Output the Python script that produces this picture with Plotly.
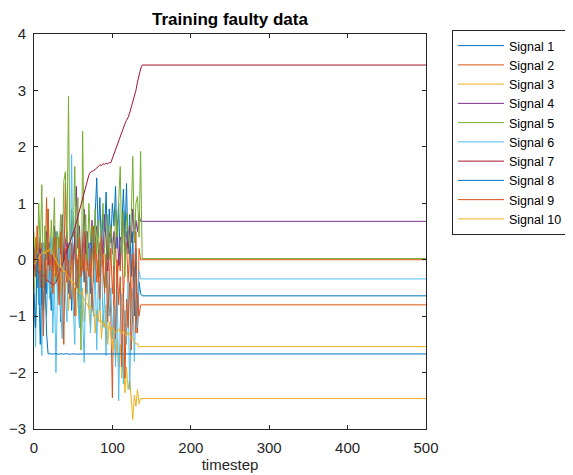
import plotly.graph_objects as go

# timesteps: sampled noisy segment (0..136 step 2), then the flat end (138, 500)
timestep_noisy = list(range(0, 138, 2))
timestep_tail = [138, 500]

signal_names = ["Signal %d" % i for i in range(1, 11)]

s1 = [-0.3, 0.2, -0.5, -0.1, 0.4, -0.8, -0.2, 0.1, -0.6, 0.3, -0.4,
      -0.9, 0.0, -0.3, 0.5, -0.7, -0.1, -1.1, 0.2, -0.4, -0.2,
      0.3, -0.6, 0.1, -0.9, -0.2, 0.4, -0.5, 0.0, -1.2, -0.3,
      0.2, -0.4, 0.5, -0.1, 0.3, -0.6, 0.6, 0.1, 0.9, 1.45,
      0.4, 1.1, 0.2, 0.8, 0.5, 1.2, 0.0, 0.9, 0.3, 1.0,
      0.6, 1.3, 0.2, 1.0, -0.1, 0.7, 1.25, 0.4, 1.35, 0.1,
      0.8, -0.3, 0.5, -1.0, 0.2, -1.25, -0.4, -0.6]
s2 = [0.1, -0.2, 0.3, -0.1, 0.0, -0.4, 0.2, -0.3, 1.1, -0.1, 0.2,
      -0.5, 0.1, -0.2, 0.4, -0.1, 0.0, -0.6, 0.3, -0.2, 1.35,
      -0.1, 0.2, -0.4, 0.1, -0.3, 0.5, -0.2, 0.0, 0.3, -0.5,
      0.1, -0.2, 0.4, -0.1, 0.2, -0.3, 0.0, 0.6, -0.2, 0.1,
      -0.4, 0.3, -0.1, 0.2, -0.6, 0.0, 0.4, -0.3, -1.0, -2.45,
      -0.2, 0.3, -0.5, 0.1, -0.2, 0.4, -0.7, 0.0, 0.3, -0.4,
      0.2, -0.9, 0.1, -0.3, 0.5, -1.3, 0.2, 0.0]
s3 = [0.5, -0.1, 0.2, -0.3, 0.1, -0.5, 0.0, -0.2, 0.3, -0.4, -0.1,
      0.2, -0.6, -0.2, 0.1, -0.5, -0.3, -0.8, 0.0, -0.4, -0.6,
      -0.2, -0.9, -0.4, -0.1, -0.7, -0.5, -1.0, -0.3, -0.6, -0.8,
      -0.5, -1.1, -0.7, -0.4, -0.9, -1.2, -0.6, -0.8, -1.3, -0.9,
      -1.1, -0.7, -1.4, -1.0, -1.2, -0.8, -1.5, -1.1, -1.3, -1.6,
      -1.2, -1.8, -1.4, -1.9, -1.5, -2.1, -1.7, -2.36, -1.9, -2.3,
      -2.1, -2.5, -2.83, -2.4, -2.6, -2.3, -2.55, -2.46]
s4 = [0.0, 0.3, -0.2, 0.1, 0.4, -0.3, 0.2, 0.0, 0.5, -0.1, 0.3,
      -0.4, 0.2, 0.6, 0.0, -0.2, 0.4, 0.1, 0.8, -0.1, 0.3,
      0.5, -0.3, 0.2, 0.7, 0.0, 0.4, 1.3, 0.2, 0.6, -0.2,
      0.3, 0.9, 0.1, 0.5, -0.1, 0.4, 0.7, 0.0, 0.3, 0.6,
      0.2, -0.3, 0.5, 0.1, 0.8, 0.3, -0.2, 0.4, 0.6, 0.1,
      0.5, 0.2, 0.7, -0.1, 0.4, 0.3, 0.8, 0.1, 0.5, 0.2,
      0.6, 0.3, 0.9, 0.4, 0.7, 0.5, 0.8, 0.68]
s5 = [-1.2, 0.4, -0.3, 1.0, 0.2, 1.33, -0.5, 0.6, 0.0, 0.9, -0.2,
      0.7, 0.1, 1.1, -0.4, 0.5, 0.2, 0.8, -0.1, 1.39, 1.56,
      0.3, 2.9, -0.2, 0.9, 0.4, 1.65, 0.0, 1.1, -0.3, -1.6,
      2.28, 0.2, 0.8, -0.2, 1.0, 0.3, 0.6, -0.4, 0.9, 0.1,
      0.7, -0.3, 0.5, 1.0, 0.2, -0.5, 0.8, 0.0, 0.6, 0.3,
      -0.2, 0.9, 0.4, 1.2, 1.65, 0.1, 0.86, -0.3, 0.83, 0.5,
      0.2, 0.7, 1.83, 0.3, 1.0, 1.12, 0.4, 1.92]
s6 = [-0.5, -1.55, 0.1, -0.8, -0.2, -1.7, 0.3, -0.6, -1.0, -0.1, -0.7,
      0.4, -1.3, -0.3, -2.0, -0.5, 0.2, -0.9, -1.4, 0.0, -0.6,
      -1.1, 0.3, -0.4, 1.86, -0.8, -1.5, 0.1, -0.7, -1.2, -0.2,
      -0.9, -1.82, -0.3, -0.6, 0.2, -1.3, -0.5, -1.0, 0.0, -1.6,
      -0.4, -0.9, 0.3, -1.2, -0.6, -1.7, -0.2, -1.0, -0.5, -1.4,
      -0.8, -1.9, -0.3, -2.5, -1.1, -0.6, -2.2, -0.9, -1.5, -0.4,
      -2.3, -1.0, -0.5, -1.8, -0.7, -1.2, -0.2, -0.34]
s7 = [-0.1, -0.15, -0.2, -0.22, -0.25, -0.3, -0.28, -0.32, -0.35, -0.38, -0.4,
      -0.42, -0.45, -0.44, -0.4, -0.33, -0.25, -0.18, -0.1, -0.02, 0.05,
      0.12, 0.2, 0.3, 0.38, 0.47, 0.56, 0.66, 0.76, 0.86, 0.95,
      1.05, 1.15, 1.27, 1.38, 1.5, 1.55, 1.56, 1.58, 1.6, 1.63,
      1.66, 1.68, 1.67, 1.7, 1.69, 1.71, 1.7, 1.72, 1.72, 1.8,
      1.85, 1.92, 2.0, 2.1, 2.2, 2.27, 2.35, 2.41, 2.47, 2.52,
      2.6, 2.7, 2.8, 2.88, 3.0, 3.15, 3.28, 3.38]
s8 = [-0.6, -1.2, 0.1, -0.4, -1.5, -0.2, -0.9, 0.0, -1.3, -1.67, -1.665,
      -1.67, -1.675, -1.665, -1.67, -1.67, -1.675, -1.665, -1.67, -1.675, -1.665,
      -1.67, -1.665, -1.675, -1.67, -1.665, -1.67, -1.675, -1.67, -1.665, -1.67,
      -1.675, -1.665, -1.67, -1.67, -1.675, -1.665, -1.67, -1.675, -1.67, -1.665,
      -1.67, -1.675, -1.665, -1.67, -1.67, -1.675, -1.665, -1.67, -1.665, -1.675,
      -1.67, -1.665, -1.67, -1.675, -1.67, -1.665, -1.67, -1.675, -1.665, -1.67,
      -1.67, -1.675, -1.665, -1.67, -1.665, -1.675, -1.67, -1.67]
s9 = [0.2, -0.3, 0.6, -0.1, -0.5, 0.3, -1.35, 0.0, -0.4, 0.9, -0.2,
      0.1, -0.6, 0.4, -0.3, 0.0, -0.8, 0.5, -0.2, -1.5, 0.2,
      -0.4, 0.0, -0.7, 0.3, -0.2, -1.0, 0.1, -0.5, 0.4, -0.3,
      -0.1, 0.5, -0.6, 0.0, -0.3, 0.2, -0.9, -0.1, 0.3, -0.4,
      0.0, -0.7, 0.4, -0.2, -0.5, 0.1, -1.1, -0.3, 0.2, -0.6,
      -0.1, -1.4, 0.0, -0.8, -0.3, -1.9, -0.5, -2.1, -0.7, -1.2,
      -0.4, -1.6, -0.9, -0.2, -1.3, -0.6, -1.0, -0.8]
s10 = [-0.08, -0.05, 0.0, 0.05, 0.08, 0.12, 0.15, 0.1, 0.18, 0.14, 0.2,
       0.16, 0.1, 0.05, -0.02, -0.08, -0.12, -0.1, -0.18, -0.22, -0.2,
       -0.28, -0.3, -0.35, -0.4, -0.38, -0.45, -0.5, -0.55, -0.6, -0.58,
       -0.65, -0.7, -0.75, -0.8, -0.85, -0.82, -0.9, -0.95, -1.0, -0.98,
       -1.05, -1.1, -1.08, -1.15, -1.12, -1.2, -1.18, -1.22, -1.25, -1.2,
       -1.24, -1.3, -1.26, -1.22, -1.28, -1.32, -1.25, -1.3, -1.35, -1.28,
       -1.32, -1.4, -1.38, -1.45, -1.5, -1.48, -1.55, -1.54]

# final (flat) level of each signal from timestep 138 to 500
final_values = [-0.64, 0.0, -2.46, 0.68, 0.02, -0.34, 3.45, -1.67, -0.80, -1.54]

colors = ["#0072BD", "#D95319", "#EDB120", "#7E2F8E", "#77AC30",
          "#4DBEEE", "#A2142F", "#0072BD", "#D95319", "#EDB120"]

series = [s1, s2, s3, s4, s5, s6, s7, s8, s9, s10]
x_all = timestep_noisy + timestep_tail

fig = go.Figure()
for name, vals, fin, col in zip(signal_names, series, final_values, colors):
    fig.add_trace(go.Scatter(
        x=x_all, y=vals + [fin, fin], mode="lines", name=name,
        line=dict(color=col, width=1)))

FONT = "Liberation Sans, Arial, Helvetica, sans-serif"
axis_common = dict(
    showline=True, linecolor="#262626", linewidth=1, mirror="ticks",
    ticks="inside", ticklen=4, tickcolor="#262626", showgrid=False,
    zeroline=False, automargin=False,
    tickfont=dict(family=FONT, size=15, color="#262626"))

# page body has an 8px margin, so the figure is 565x467 placed at (8, 8)
W, H = 565, 467
fig.update_layout(
    width=W, height=H,
    margin=dict(l=26, r=147, t=26, b=46, autoexpand=False),
    paper_bgcolor="white", plot_bgcolor="white",
    title=dict(text="<b>Training faulty data</b>", x=0.5, xref="paper",
               y=1 - 11.5 / H, yref="container", yanchor="middle",
               font=dict(family=FONT, size=17, color="black")),
    xaxis=dict(range=[0, 500], dtick=100, tick0=0, ticklabelstandoff=5,
               title=dict(text="timestep", standoff=0,
                          font=dict(family=FONT, size=15, color="#262626")),
               **axis_common),
    yaxis=dict(range=[-3, 4], dtick=1, tick0=0, ticklabelstandoff=4,
               **axis_common),
    legend=dict(x=(444 - 26) / 392, xanchor="left", y=1 + 4 / 395, yanchor="top",
                bordercolor="#262626", borderwidth=1, bgcolor="white",
                font=dict(family=FONT, size=12.5, color="black"),
                tracegroupgap=0, itemwidth=46),
    showlegend=True,
)

fig.write_html("out.html")
